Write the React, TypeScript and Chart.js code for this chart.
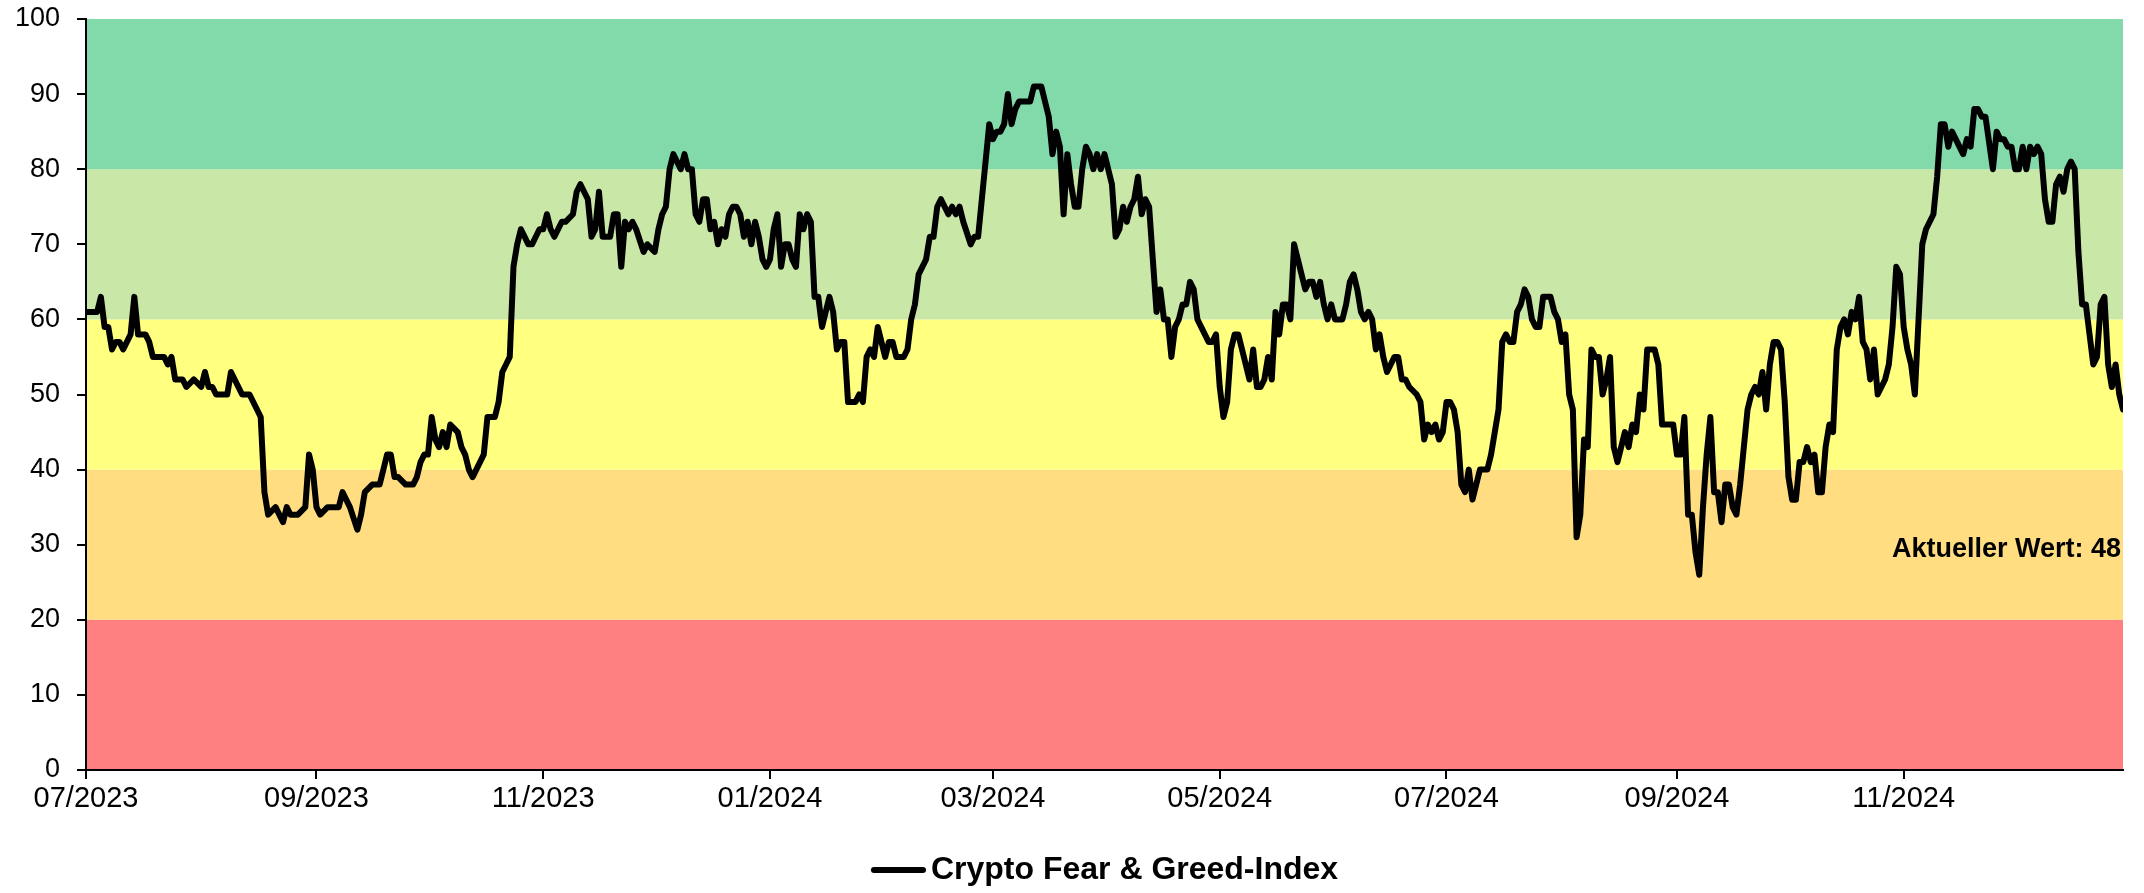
import React, { useEffect, useRef } from 'react';
import { Chart, registerables } from 'chart.js';

Chart.register(...registerables);

// Day offsets counted from 01.07.2023
const START_DATE = '2023-07-01';
const DAY_OFFSETS = [
  0, 3, 4, 5, 6, 7, 8, 9, 10, 12, 13, 14, 16, 17, 18, 19, 21, 22, 23, 24, 26, 27, 29, 31, 32, 33, 34, 35, 37, 38, 39, 41, 42, 43, 44, 45, 47, 48, 49, 51, 53, 54, 55, 57, 59, 60, 61, 62, 63, 65, 67, 68, 69, 70, 71, 73, 74, 75, 77, 79, 80, 81, 82, 83, 84, 86, 87, 88, 89, 90, 91, 92, 93, 94, 95, 96, 97, 98, 100, 101, 102, 103, 104, 105, 106, 107, 108, 110, 111, 112, 113, 114, 115, 116, 117, 118, 119, 120, 121, 122, 123, 124, 125, 126, 127, 128, 129, 131, 132, 133, 134, 135, 136, 137, 138, 139, 140, 141, 142, 143, 144, 145, 146, 147, 148, 150, 151, 153, 154, 155, 156, 157, 158, 159, 160, 161, 162, 163, 164, 165, 166, 167, 168, 169, 170, 171, 172, 173, 174, 175, 176, 177, 178, 179, 180, 181, 182, 183, 184, 185, 186, 187, 188, 189, 190, 191, 192, 193, 194, 195, 196, 197, 198, 199, 200, 201, 202, 203, 204, 205, 207, 208, 209, 210, 211, 212, 213, 214, 215, 216, 217, 218, 220, 221, 222, 223, 224, 225, 226, 227, 228, 229, 230, 231, 232, 233, 234, 235, 236, 238, 239, 240, 241, 242, 243, 244, 245, 246, 247, 248, 249, 250, 251, 253, 254, 255, 256, 257, 258, 259, 260, 261, 262, 263, 264, 265, 266, 267, 268, 269, 270, 271, 272, 273, 274, 276, 277, 278, 279, 280, 281, 282, 283, 284, 285, 286, 287, 288, 289, 290, 291, 292, 293, 294, 295, 296, 297, 298, 299, 300, 301, 302, 303, 304, 305, 306, 307, 308, 309, 310, 311, 313, 314, 315, 316, 317, 318, 319, 320, 321, 322, 323, 324, 325, 326, 327, 328, 329, 330, 331, 332, 333, 334, 335, 336, 337, 338, 339, 340, 341, 342, 343, 344, 345, 346, 347, 348, 349, 350, 351, 352, 353, 354, 355, 356, 358, 359, 360, 361, 362, 363, 364, 365, 366, 367, 368, 369, 370, 371, 372, 373, 374, 375, 377, 378, 379, 380, 381, 382, 383, 384, 385, 386, 387, 388, 389, 390, 391, 392, 393, 394, 395, 396, 397, 398, 399, 400, 401, 402, 403, 404, 405, 406, 407, 408, 409, 410, 411, 412, 413, 414, 415, 416, 417, 418, 419, 420, 422, 423, 424, 425, 427, 428, 429, 430, 431, 432, 433, 434, 435, 436, 437, 438, 439, 440, 441, 442, 443, 444, 445, 446, 447, 448, 449, 450, 451, 452, 453, 454, 455, 456, 457, 458, 459, 460, 461, 462, 463, 464, 465, 466, 467, 468, 469, 470, 471, 472, 473, 474, 475, 476, 477, 478, 479, 480, 481, 482, 484, 485, 486, 487, 488, 489, 490, 491, 492, 493, 494, 495, 496, 497, 498, 499, 500, 501, 502, 503, 505, 506, 507, 508, 509, 510, 511, 513, 514, 515, 516, 517, 518, 519, 520, 521, 522, 523, 524, 525, 526, 527, 528, 529, 530, 531, 532, 533, 534, 535, 536, 537, 538, 539, 540, 541, 542, 543, 544, 545, 546, 547, 548,
];
const INDEX_VALUES = [
  61, 61, 63, 59, 59, 56, 57, 57, 56, 58, 63, 58, 58, 57, 55, 55, 55, 54, 55, 52, 52, 51, 52, 51, 53, 51, 51, 50, 50, 50, 53, 51, 50, 50, 50, 49, 47, 37, 34, 35, 33, 35, 34, 34, 35, 42, 40, 35, 34, 35, 35, 35, 37, 36, 35, 32, 34, 37, 38, 38, 40, 42, 42, 39, 39, 38, 38, 38, 39, 41, 42, 42, 47, 44, 43, 45, 43, 46, 45, 43, 42, 40, 39, 40, 41, 42, 47, 47, 49, 53, 54, 55, 67, 70, 72, 71, 70, 70, 71, 72, 72, 74, 72, 71, 72, 73, 73, 74, 77, 78, 77, 76, 71, 72, 77, 71, 71, 71, 74, 74, 67, 73, 72, 73, 72, 69, 70, 69, 72, 74, 75, 80, 82, 81, 80, 82, 80, 80, 74, 73, 76, 76, 72, 73, 70, 72, 71, 74, 75, 75, 74, 71, 73, 70, 73, 71, 68, 67, 68, 72, 74, 67, 70, 70, 68, 67, 74, 72, 74, 73, 63, 63, 59, 61, 63, 61, 56, 57, 57, 49, 49, 50, 49, 55, 56, 55, 59, 57, 55, 57, 57, 55, 55, 56, 60, 62, 66, 67, 68, 71, 71, 75, 76, 75, 74, 75, 74, 75, 73, 70, 71, 71, 76, 81, 86, 84, 85, 85, 86, 90, 86, 88, 89, 89, 89, 91, 91, 91, 89, 87, 82, 85, 83, 74, 82, 78, 75, 75, 80, 83, 82, 80, 82, 80, 82, 78, 71, 72, 75, 73, 75, 76, 79, 74, 76, 75, 68, 61, 64, 60, 60, 55, 59, 60, 62, 62, 65, 64, 60, 59, 58, 57, 57, 58, 51, 47, 49, 56, 58, 58, 56, 52, 56, 51, 51, 52, 55, 52, 61, 58, 62, 62, 60, 70, 68, 66, 64, 65, 65, 63, 65, 62, 60, 62, 60, 60, 60, 62, 65, 66, 64, 61, 60, 61, 60, 56, 58, 55, 53, 54, 55, 55, 52, 52, 51, 50, 49, 44, 46, 45, 46, 44, 45, 49, 49, 48, 45, 38, 37, 40, 36, 38, 40, 40, 42, 45, 48, 57, 58, 57, 57, 61, 62, 64, 63, 60, 59, 59, 63, 63, 63, 61, 60, 57, 58, 50, 48, 31, 34, 44, 43, 56, 55, 55, 50, 52, 55, 43, 41, 43, 45, 43, 46, 45, 50, 48, 56, 56, 54, 46, 46, 46, 42, 42, 47, 34, 34, 29, 26, 35, 42, 47, 37, 37, 33, 38, 38, 35, 34, 38, 43, 48, 50, 51, 50, 53, 48, 54, 57, 57, 56, 49, 39, 36, 36, 41, 41, 43, 41, 42, 37, 37, 43, 46, 45, 56, 59, 60, 58, 61, 60, 63, 57, 56, 52, 56, 50, 52, 54, 59, 67, 66, 59, 56, 54, 50, 60, 70, 72, 73, 74, 79, 86, 86, 83, 85, 84, 82, 84, 83, 88, 88, 87, 87, 80, 85, 84, 84, 83, 83, 80, 80, 83, 80, 83, 82, 83, 82, 76, 73, 73, 78, 79, 77, 80, 81, 80, 69, 62, 62, 58, 54, 55, 62, 63, 54, 51, 54, 50, 48,
];

const TICK_LABELS = ['07/2023', '09/2023', '11/2023', '01/2024', '03/2024', '05/2024', '07/2024', '09/2024', '11/2024'];
const BAND_EDGES = [0, 20, 40, 60, 80, 100];
const BAND_COLORS = ['#FF8080', '#FFDD80', '#FFFF80', '#C9E7A7', '#82D9A9'];
const SERIES_LABEL = 'Crypto Fear & Greed-Index';
const CURRENT_PREFIX = 'Aktueller Wert: ';

const FONT = "'Liberation Sans', Arial, Helvetica, sans-serif";
const DAY_MS = 86400000;

function labelToDay(label: string): number {
  const [mm, yyyy] = label.split('/').map(Number);
  const [sy, sm, sd] = START_DATE.split('-').map(Number);
  return Math.round((Date.UTC(yyyy, mm - 1, 1) - Date.UTC(sy, sm - 1, sd)) / DAY_MS);
}

const TICK_DAYS = TICK_LABELS.map(labelToDay);

// legend marker: a 55px thick line sitting close to the label text
function makeLegendLine(): HTMLCanvasElement {
  const c = document.createElement('canvas');
  c.width = 66;
  c.height = 10;
  const g = c.getContext('2d');
  if (g) {
    g.strokeStyle = '#000';
    g.lineWidth = 6;
    g.lineCap = 'round';
    g.beginPath();
    g.moveTo(14, 5);
    g.lineTo(63, 5);
    g.stroke();
  }
  return c;
}

const bandsPlugin = {
  id: 'bands',
  beforeDraw(chart: any) {
    const { ctx, chartArea: a, scales } = chart;
    const y = scales.y;
    ctx.save();
    for (let i = 0; i < BAND_COLORS.length; i++) {
      const top = y.getPixelForValue(BAND_EDGES[i + 1]);
      const bottom = y.getPixelForValue(BAND_EDGES[i]);
      ctx.fillStyle = BAND_COLORS[i];
      ctx.fillRect(a.left, top, a.right - a.left, bottom - top);
    }
    ctx.restore();
  },
};

const currentValuePlugin = {
  id: 'currentValue',
  afterDatasetsDraw(chart: any) {
    const { ctx, chartArea: a, scales } = chart;
    const last = INDEX_VALUES[INDEX_VALUES.length - 1];
    ctx.save();
    ctx.font = `bold 27px ${FONT}`;
    ctx.fillStyle = '#000';
    ctx.textAlign = 'right';
    ctx.textBaseline = 'middle';
    ctx.fillText(CURRENT_PREFIX + last, a.right - 2, scales.y.getPixelForValue(29.4));
    ctx.restore();
  },
};

export default function App() {
  const canvasRef = useRef<HTMLCanvasElement | null>(null);

  useEffect(() => {
    document.body.style.margin = '0';
    const canvas = canvasRef.current;
    if (!canvas) return;
    const points = DAY_OFFSETS.map((d, i) => ({ x: d, y: INDEX_VALUES[i] }));
    const legendLine = makeLegendLine();
    const chart = new Chart(canvas, {
      type: 'line',
      data: {
        datasets: [
          {
            label: SERIES_LABEL,
            data: points,
            borderColor: '#000000',
            backgroundColor: '#000000',
            borderWidth: 6,
            borderJoinStyle: 'round',
            borderCapStyle: 'round',
            pointRadius: 0,
            pointHoverRadius: 0,
            pointStyle: 'line',
            tension: 0,
            fill: false,
          },
        ],
      },
      options: {
        animation: false,
        responsive: false,
        maintainAspectRatio: false,
        devicePixelRatio: 1,
        events: [],
        layout: { padding: { left: 0, right: 21, top: 19, bottom: -3 } },
        plugins: {
          legend: {
            display: true,
            position: 'bottom',
            fullSize: false,
            labels: {
              usePointStyle: true,
              pointStyle: legendLine,
              pointStyleWidth: 44,
              padding: 10,
              color: '#000',
              font: { family: FONT, size: 32, weight: 'bold' },
            },
          },
          tooltip: { enabled: false },
        },
        scales: {
          x: {
            type: 'linear',
            min: 0,
            max: DAY_OFFSETS[DAY_OFFSETS.length - 1],
            afterBuildTicks: (scale: any) => {
              scale.ticks = TICK_DAYS.map((v) => ({ value: v }));
            },
            afterFit: (scale: any) => {
              scale.height = 74;
              scale.paddingLeft = 0;
              scale.paddingRight = 0;
            },
            ticks: {
              autoSkip: false,
              maxRotation: 0,
              minRotation: 0,
              padding: 3,
              color: '#000',
              font: { family: FONT, size: 29 },
              callback: (value: any) => {
                const idx = TICK_DAYS.indexOf(Number(value));
                return idx >= 0 ? TICK_LABELS[idx] : '';
              },
            },
            grid: {
              display: true,
              drawOnChartArea: false,
              drawTicks: true,
              tickLength: 9,
              color: '#000',
              lineWidth: 2,
            },
            border: { display: true, color: '#000', width: 2 },
          },
          y: {
            type: 'linear',
            min: 0,
            max: 100,
            afterFit: (scale: any) => {
              scale.width = 86;
              scale.paddingTop = 0;
              scale.paddingBottom = 0;
            },
            ticks: {
              stepSize: 10,
              padding: 17,
              color: '#000',
              font: { family: FONT, size: 27 },
            },
            grid: {
              display: true,
              drawOnChartArea: false,
              drawTicks: true,
              tickLength: 9,
              color: '#000',
              lineWidth: 2,
            },
            border: { display: true, color: '#000', width: 2 },
          },
        },
      } as any,
      plugins: [bandsPlugin, currentValuePlugin],
    });
    return () => chart.destroy();
  }, []);

  return (
    <div style={{ position: 'fixed', left: 0, top: 0, width: 2144, height: 893, background: '#fff' }}>
      <canvas ref={canvasRef} width={2144} height={893} style={{ display: 'block', width: 2144, height: 893 }} />
    </div>
  );
}
